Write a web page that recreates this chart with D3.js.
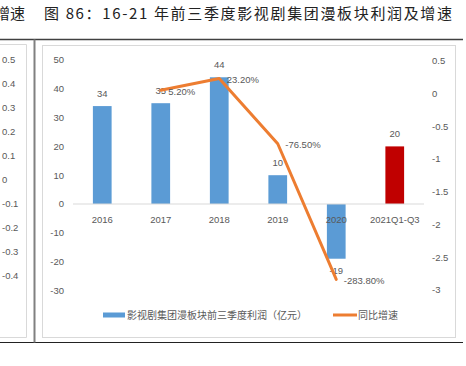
<!DOCTYPE html>
<html>
<head>
<meta charset="utf-8">
<script src="https://cdn.jsdelivr.net/npm/d3@7"></script>
<style>
  body { margin: 0; background: #fff; }
  text { font-family: "Liberation Sans", Arial, sans-serif; }
  .cjk { font-family: "Noto Sans CJK SC", "Noto Sans", sans-serif; }
</style>
</head>
<body>
<div id="chart"></div>
<script>
var categories = ["2016", "2017", "2018", "2019", "2020", "2021Q1-Q3"];
var profit = [34, 35, 44, 10, -19, 20];
var growth = [null, 0.052, 0.232, -0.765, -2.838, null];
var growthLabels = [null, "5.20%", "23.20%", "-76.50%", "-283.80%", null];
var leftTicks = [50, 40, 30, 20, 10, 0, -10, -20, -30];
var rightTicks = [0.5, 0, -0.5, -1, -1.5, -2, -2.5, -3];
// ticks of the cropped chart on the left edge
var prevTicks = [0.5, 0.4, 0.3, 0.2, 0.1, 0, -0.1, -0.2, -0.3, -0.4];
var title = "图 86：16-21 年前三季度影视剧集团漫板块利润及增速";
var legendNames = ["影视剧集团漫板块前三季度利润（亿元）", "同比增速"];

var W = 466, H = 366;
var blue = "#5b9bd5", red = "#c00000", orange = "#ed7d31", grey = "#595959";

var svg = d3.select("#chart").append("svg")
    .attr("width", W)
    .attr("height", H);

// page frame
svg.append("text").attr("class", "cjk")
    .attr("x", 25).attr("y", 14).attr("dy", "0.35em")
    .style("text-anchor", "end")
    .style("font-size", "15px").style("fill", "#222")
    .text("增速");
svg.append("text").attr("class", "cjk")
    .attr("x", 44).attr("y", 14).attr("dy", "0.35em")
    .attr("textLength", 408).attr("lengthAdjust", "spacing")
    .style("font-size", "15px").style("fill", "#222")
    .text(title);

svg.append("line").attr("x1", 0).attr("x2", 463).attr("y1", 39.5).attr("y2", 39.5)
    .style("stroke", "#404040").style("stroke-width", 1.5);
svg.append("line").attr("x1", 0).attr("x2", 463).attr("y1", 342.5).attr("y2", 342.5)
    .style("stroke", "#222").style("stroke-width", 1.2);
svg.append("line").attr("x1", 34.5).attr("x2", 34.5).attr("y1", 39.5).attr("y2", 342.5)
    .style("stroke", "#808080").style("stroke-width", 2);

// cropped previous chart
svg.append("path")
    .attr("d", "M-1,44.5H26.5V337.5H-1")
    .style("fill", "none").style("stroke", "#d9d9d9");
var yPrev = d3.scaleLinear().domain([-0.4, 0.5]).range([276, 59.5]);
svg.selectAll(".prevTick")
    .data(prevTicks)
    .enter().append("text")
      .attr("class", "prevTick")
      .attr("x", 2)
      .attr("y", function(d) { return yPrev(d); })
      .attr("dy", "0.35em")
      .style("font-size", "9.5px").style("fill", grey)
      .text(function(d) { return String(d); });

// chart box
svg.append("rect")
    .attr("x", 42.5).attr("y", 45.5).attr("width", 413).attr("height", 292)
    .style("fill", "#fff").style("stroke", "#d9d9d9");

var x = d3.scaleBand()
    .domain(categories)
    .range([73, 424])
    .paddingInner(0.68)
    .paddingOuter(0.34);
var y = d3.scaleLinear().domain([-30, 50]).range([290.4, 60]);
var y2 = d3.scaleLinear().domain([-3, 0.5]).range([290, 61]);
var cx = function(c) { return x(c) + x.bandwidth() / 2; };

svg.selectAll(".yTick")
    .data(leftTicks)
    .enter().append("text")
      .attr("class", "yTick")
      .attr("x", 64)
      .attr("y", function(d) { return y(d); })
      .attr("dy", "0.35em")
      .style("text-anchor", "end")
      .style("font-size", "9.5px").style("fill", grey)
      .text(function(d) { return String(d); });

svg.selectAll(".y2Tick")
    .data(rightTicks)
    .enter().append("text")
      .attr("class", "y2Tick")
      .attr("x", 432)
      .attr("y", function(d) { return y2(d); })
      .attr("dy", "0.35em")
      .style("font-size", "9.5px").style("fill", grey)
      .text(function(d) { return String(d); });

// bars
svg.selectAll(".bar")
    .data(profit)
    .enter().append("rect")
      .attr("class", "bar")
      .attr("x", function(d, i) { return x(categories[i]); })
      .attr("y", function(d) { return y(Math.max(0, d)); })
      .attr("width", x.bandwidth())
      .attr("height", function(d) { return Math.abs(y(d) - y(0)); })
      .style("fill", function(d, i) { return i == categories.length - 1 ? red : blue; });

svg.append("line")
    .attr("x1", 73).attr("x2", 424)
    .attr("y1", y(0)).attr("y2", y(0))
    .style("stroke", "#d9d9d9");

svg.selectAll(".xLabel")
    .data(categories)
    .enter().append("text")
      .attr("class", "xLabel")
      .attr("x", cx)
      .attr("y", 220)
      .attr("dy", "0.35em")
      .style("text-anchor", "middle")
      .style("font-size", "9.5px").style("fill", grey)
      .text(function(d) { return d; });

svg.selectAll(".barLabel")
    .data(profit)
    .enter().append("text")
      .attr("class", "barLabel")
      .attr("x", function(d, i) { return cx(categories[i]); })
      .attr("y", function(d) { return d >= 0 ? y(d) - 12.5 : y(d) + 12; })
      .attr("dy", "0.35em")
      .style("text-anchor", "middle")
      .style("font-size", "9.5px").style("fill", grey)
      .text(function(d) { return String(d); });

// growth line
var line = d3.line()
    .defined(function(d) { return d != null; })
    .x(function(d, i) { return cx(categories[i]); })
    .y(function(d) { return y2(d); });

svg.append("path")
    .datum(growth)
    .attr("d", line)
    .style("fill", "none")
    .style("stroke", orange)
    .style("stroke-width", 3)
    .style("stroke-linejoin", "round")
    .style("stroke-linecap", "round");

var points = categories.map(function(c, i) {
  return { cat: c, value: growth[i], label: growthLabels[i] };
}).filter(function(p) { return p.value != null; });

svg.selectAll(".lineLabel")
    .data(points)
    .enter().append("text")
      .attr("class", "lineLabel")
      .attr("x", function(d) { return cx(d.cat) + 7.5; })
      .attr("y", function(d) { return y2(d.value) + 1; })
      .attr("dy", "0.35em")
      .style("font-size", "9.5px").style("fill", grey)
      .text(function(d) { return d.label; });

// legend
var lg = svg.append("g");
lg.append("rect")
    .attr("x", 103).attr("y", 312.5).attr("width", 22).attr("height", 5)
    .style("fill", blue);
lg.append("text").attr("class", "cjk")
    .attr("x", 127).attr("y", 315).attr("dy", "0.35em")
    .style("font-size", "10px").style("fill", grey)
    .text(legendNames[0]);
lg.append("line")
    .attr("x1", 333).attr("x2", 357).attr("y1", 315).attr("y2", 315)
    .style("stroke", orange).style("stroke-width", 3);
lg.append("text").attr("class", "cjk")
    .attr("x", 358).attr("y", 315).attr("dy", "0.35em")
    .style("font-size", "10px").style("fill", grey)
    .text(legendNames[1]);
</script>
</body>
</html>
